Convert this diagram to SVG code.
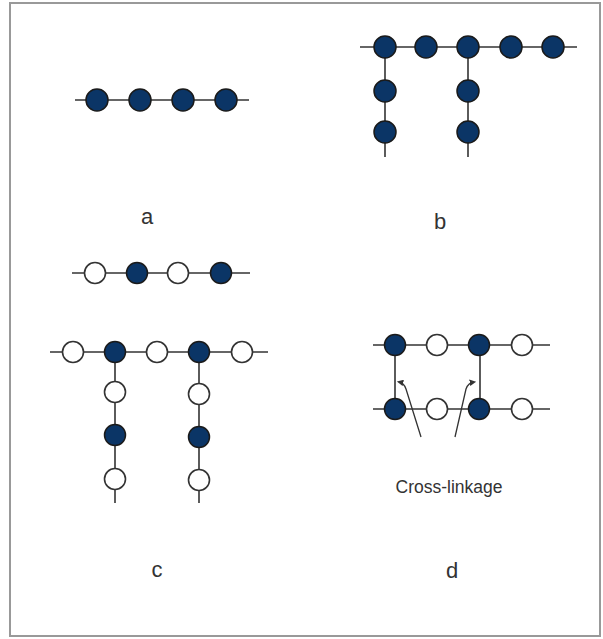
<svg xmlns="http://www.w3.org/2000/svg" width="603" height="639" viewBox="0 0 603 639">
<defs>
<style>
.ln{stroke:#333;stroke-width:1.6;fill:none}
.f{fill:#0b3566;stroke:#1a1a1a;stroke-width:1.5}
.o{fill:#fff;stroke:#333;stroke-width:1.6}
.lb{font-family:"Liberation Sans",Arial,sans-serif;fill:#333;text-anchor:middle}
.ar{stroke:#333;stroke-width:1.3;fill:none}
</style>
<marker id="ah" viewBox="0 0 6 6" refX="4" refY="3" markerWidth="5" markerHeight="5" orient="auto">
<path d="M0,0 L6,3 L0,6 z" fill="#333"/>
</marker>
</defs>
<rect x="10" y="3" width="590" height="633" fill="#fff" stroke="#999" stroke-width="2"/>
<g id="connectors">
<line class="ln" x1="75" y1="100" x2="249" y2="100"/>
<line class="ln" x1="360" y1="47" x2="577" y2="47"/>
<line class="ln" x1="385" y1="47" x2="385" y2="157"/>
<line class="ln" x1="468" y1="47" x2="468" y2="157"/>
<line class="ln" x1="72" y1="273" x2="250" y2="273"/>
<line class="ln" x1="50" y1="352" x2="268" y2="352"/>
<line class="ln" x1="115" y1="352" x2="115" y2="503"/>
<line class="ln" x1="199" y1="352" x2="199" y2="503"/>
<line class="ln" x1="373" y1="345" x2="550" y2="345"/>
<line class="ln" x1="373" y1="409" x2="550" y2="409"/>
<line class="ln" x1="395" y1="345" x2="395" y2="409"/>
<line class="ln" x1="480" y1="345" x2="480" y2="409"/>
<path class="ar" d="M421,437 L406,389 Q404,383 399,382" marker-end="url(#ah)"/>
<path class="ar" d="M455,437 L466,389 Q468,383 474,382" marker-end="url(#ah)"/>
</g>
<g id="a">
<circle class="f" cx="97" cy="100" r="11"/>
<circle class="f" cx="140" cy="100" r="11"/>
<circle class="f" cx="183" cy="100" r="11"/>
<circle class="f" cx="226" cy="100" r="11"/>
<text class="lb" x="147" y="224" font-size="22">a</text>
</g>
<g id="b">
<circle class="f" cx="385" cy="47" r="11"/>
<circle class="f" cx="426" cy="47" r="11"/>
<circle class="f" cx="468" cy="47" r="11"/>
<circle class="f" cx="511" cy="47" r="11"/>
<circle class="f" cx="553" cy="47" r="11"/>
<circle class="f" cx="385" cy="91" r="11"/>
<circle class="f" cx="385" cy="132" r="11"/>
<circle class="f" cx="468" cy="91" r="11"/>
<circle class="f" cx="468" cy="132" r="11"/>
<text class="lb" x="440" y="229" font-size="22">b</text>
</g>
<g id="c">
<circle class="o" cx="95" cy="273" r="10.5"/>
<circle class="f" cx="137" cy="273" r="10.5"/>
<circle class="o" cx="178" cy="273" r="10.5"/>
<circle class="f" cx="221" cy="273" r="10.5"/>
<circle class="o" cx="73" cy="352" r="10.5"/>
<circle class="f" cx="115" cy="352" r="10.5"/>
<circle class="o" cx="157" cy="352" r="10.5"/>
<circle class="f" cx="199" cy="352" r="10.5"/>
<circle class="o" cx="242" cy="352" r="10.5"/>
<circle class="o" cx="115" cy="392" r="10.5"/>
<circle class="f" cx="115" cy="435" r="10.5"/>
<circle class="o" cx="115" cy="479" r="10.5"/>
<circle class="o" cx="199" cy="394" r="10.5"/>
<circle class="f" cx="199" cy="437" r="10.5"/>
<circle class="o" cx="199" cy="480" r="10.5"/>
<text class="lb" x="157" y="577" font-size="22">c</text>
</g>
<g id="d">
<circle class="f" cx="395" cy="345" r="10.5"/>
<circle class="o" cx="437" cy="345" r="10.5"/>
<circle class="f" cx="479" cy="345" r="10.5"/>
<circle class="o" cx="522" cy="345" r="10.5"/>
<circle class="f" cx="395" cy="409" r="10.5"/>
<circle class="o" cx="437" cy="409" r="10.5"/>
<circle class="f" cx="479" cy="409" r="10.5"/>
<circle class="o" cx="522" cy="409" r="10.5"/>
<text class="lb" x="449" y="493" font-size="17.5">Cross-linkage</text>
<text class="lb" x="452" y="578" font-size="22">d</text>
</g>
</svg>
